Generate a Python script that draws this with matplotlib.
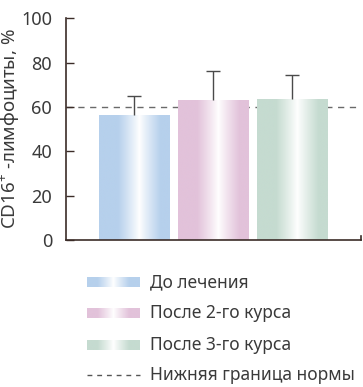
import numpy as np
import matplotlib
matplotlib.use('Agg')
import matplotlib.pyplot as plt
from matplotlib.colors import to_rgb

plt.rcParams['font.family'] = ['Noto Sans', 'DejaVu Sans']
plt.rcParams['mathtext.fontset'] = 'custom'
plt.rcParams['mathtext.rm'] = 'Noto Sans'

groups = ['До лечения', 'После 2-го курса', 'После 3-го курса']
means = [56.5, 63, 63.5]
errors = [8.5, 13, 11]
colors = ['#b6d0ec', '#e2c2da', '#c5dbd0']
norm_level = 60
norm_label = 'Нижняя граница нормы'

axis_color = '#3b2c28'
text_color = '#3a3a3a'


def gradient(color, n=256, center=0.57):
    # horizontal fade: colour at the sides, white in the middle
    t = np.linspace(0, 1, n)
    a = np.clip(np.abs(t - center) / 0.3, 0, 1) ** 0.9
    c = np.array(to_rgb(color))
    img = (1 - a)[:, None] * 1.0 + a[:, None] * c[None, :]
    return img[None, :, :]


fig = plt.figure(figsize=(3.63, 3.87), dpi=100)
ax = fig.add_axes([0.182, 0.38, 0.812, 0.573])

x = np.arange(len(groups))
ax.axhline(norm_level, color='#6a6a6a', lw=1, ls=(0, (4.5, 4)), zorder=0)
bars = ax.bar(x, means, width=0.9, color='none', zorder=2)
for b, col in zip(bars, colors):
    x0, y0 = b.get_x(), b.get_y()
    w, h = b.get_width(), b.get_height()
    im = ax.imshow(gradient(col), extent=[x0, x0 + w, y0, y0 + h],
                   aspect='auto', zorder=2, interpolation='bilinear')
    im.set_clip_path(b)

_, caps, _ = ax.errorbar(x, means, yerr=[[0] * len(x), errors], fmt='none',
                         ecolor='#4a4a4a', elinewidth=1, capsize=5,
                         capthick=1, zorder=3)
caps[0].set_visible(False)  # only the upper whisker

ax.set_xlim(-0.867, 2.87)
ax.set_ylim(0, 100)
ax.set_yticks([0, 20, 40, 60, 80, 100])
ax.set_xticks([])
ax.tick_params(axis='y', direction='in', length=6, width=1, color=axis_color,
               labelsize=13, labelcolor=text_color, pad=10)
ax.spines['top'].set_visible(False)
ax.spines['right'].set_bounds(0, 1.8)
for s in ['left', 'bottom', 'right']:
    ax.spines[s].set_color(axis_color)
    ax.spines[s].set_linewidth(1.2)
ax.set_ylabel('CD16$^{+}$ -лимфоциты, %', fontsize=13.5, color=text_color)
ax.yaxis.set_label_coords(-0.15, 0.5)

# legend drawn in pixel space below the plot
lg = fig.add_axes([0, 0, 1, 1], zorder=-1)
lg.set_xlim(0, 363)
lg.set_ylim(387, 0)
lg.axis('off')
rows = [282, 313, 345, 375]
for yy, col, lab in zip(rows, colors, groups):
    lg.imshow(gradient(col, center=0.5), extent=[87, 140, yy + 5, yy - 5],
              aspect='auto', interpolation='bilinear')
    lg.text(150, yy, lab, fontsize=12.5, color=text_color, va='center')
lg.plot([87, 140], [rows[3], rows[3]], color='#555555', lw=1,
        ls=(0, (3.5, 3.5)))
lg.text(150, rows[3], norm_label, fontsize=12.5, color=text_color,
        va='center')
lg.set_xlim(0, 363)
lg.set_ylim(387, 0)

fig.savefig('out.png', dpi=100)
